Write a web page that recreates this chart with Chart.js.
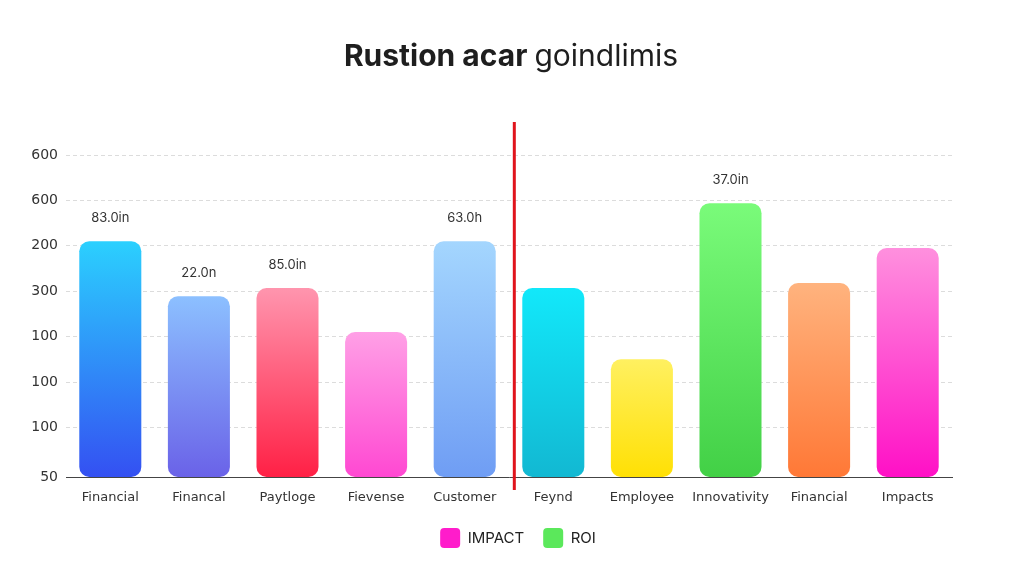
<!DOCTYPE html>
<html lang="en">
  <head>
    <meta charset="UTF-8" />
    <style>
      html, body { margin: 0; padding: 0; background: #fff; }
      #wrap { width: 1024px; height: 576px; }
    </style>
  </head>
  <body>
    <div id="wrap"><canvas id="myChart"></canvas></div>
    <script src="https://cdn.jsdelivr.net/npm/chart.js@4.4.1/dist/chart.umd.min.js"></script>
    <script>
      var categories = ["Financial", "Financal", "Paytloge", "Fievense", "Customer",
                        "Feynd", "Employee", "Innovativity", "Financial", "Impacts"];
      var impactValues = [5.20, 3.99, 4.17, 3.20, 5.20, null, null, null, null, null];
      var roiValues = [null, null, null, null, null, 4.17, 2.60, 6.04, 4.28, 5.05];
      var valueLabels = ["83.0in", "22.0n", "85.0in", "", "63.0h", "", "", "37.0in", "", ""];
      var tickValues = [0, 1.1, 2.1, 3.1, 4.1, 5.1, 6.1, 7.1];
      var tickLabels = ["50", "100", "100", "100", "300", "200", "600", "600"];
      var seriesNames = ["IMPACT", "ROI"];
      var legendColors = ["#ff1ccb", "#5be85b"];
      var gradTop = ["#2bd0fe", "#8cc0ff", "#ff95ae", "#ffa0e6", "#a4d6fe",
                     "#12e8fa", "#fff060", "#7afb7a", "#ffb37e", "#ff90de"];
      var gradBottom = ["#3450f2", "#6a62e8", "#ff2045", "#ff48d2", "#6f9df4",
                        "#12b8d2", "#ffe004", "#42d046", "#ff7836", "#ff10c6"];
      var separatorAt = 4.56;

      function barFill(context) {
        var i = context.dataIndex;
        var chart = context.chart;
        var area = chart.chartArea;
        var v = context.raw;
        if (!area || v == null || !chart.scales.y) return gradTop[i];
        var top = chart.scales.y.getPixelForValue(v);
        var g = chart.ctx.createLinearGradient(0, top, 0, area.bottom);
        g.addColorStop(0, gradTop[i]);
        g.addColorStop(1, gradBottom[i]);
        return g;
      }

      // title with bold + regular parts, red divider, value labels
      var decor = {
        id: "decor",
        afterDatasetsDraw: function (chart) {
          var ctx = chart.ctx;
          var x = chart.scales.x;
          ctx.save();
          // value labels
          ctx.font = "13px Inter, 'DejaVu Sans', sans-serif";
          ctx.fillStyle = "#333";
          ctx.textAlign = "center";
          ctx.textBaseline = "middle";
          chart.data.datasets.forEach(function (ds, di) {
            chart.getDatasetMeta(di).data.forEach(function (bar, i) {
              if (ds.data[i] == null || !valueLabels[i]) return;
              ctx.fillText(valueLabels[i], bar.x, bar.y - 23);
            });
          });
          // red divider
          var px = x.getPixelForValue(separatorAt);
          ctx.strokeStyle = "#e0141c";
          ctx.lineWidth = 3;
          ctx.beginPath();
          ctx.moveTo(px, 122);
          ctx.lineTo(px, 490);
          ctx.stroke();
          // title
          var bold = "700 30px Inter, sans-serif";
          var reg = "400 30px Inter, sans-serif";
          var a = "Rustion acar ", b = "goindlimis";
          ctx.font = bold;
          var wa = ctx.measureText(a).width;
          ctx.font = reg;
          var wb = ctx.measureText(b).width;
          var sx = 511 - (wa + wb) / 2;
          ctx.textAlign = "left";
          ctx.fillStyle = "#1e1e1e";
          ctx.font = bold;
          ctx.fillText(a, sx, 57);
          ctx.font = reg;
          ctx.fillText(b, sx + wa, 57);
          ctx.restore();
        },
      };

      var ctx = document.getElementById("myChart").getContext("2d");
      var chart = new Chart(ctx, {
        type: "bar",
        data: {
          labels: categories,
          datasets: [
            { label: seriesNames[0], data: impactValues, backgroundColor: barFill },
            { label: seriesNames[1], data: roiValues, backgroundColor: barFill },
          ],
        },
        options: {
          responsive: true,
          maintainAspectRatio: false,
          animation: false,
          datasets: {
            bar: {
              grouped: false,
              borderRadius: 10,
              borderSkipped: false,
              categoryPercentage: 0.8,
              barPercentage: 0.875,
            },
          },
          layout: { padding: { top: 155, right: 0, left: 12, bottom: 18 } },
          plugins: {
            colors: { enabled: false },
            tooltip: { enabled: false },
            legend: {
              position: "bottom",
              labels: {
                boxWidth: 20,
                boxHeight: 20,
                useBorderRadius: true,
                borderRadius: 4,
                padding: 19,
                color: "#222",
                font: { size: 15, family: "Inter, sans-serif" },
                generateLabels: function (chart) {
                  return seriesNames.map(function (n, i) {
                    return {
                      text: n,
                      fillStyle: legendColors[i],
                      strokeStyle: legendColors[i],
                      lineWidth: 0,
                      borderRadius: 4,
                      datasetIndex: i,
                      fontColor: "#222",
                    };
                  });
                },
              },
            },
          },
          scales: {
            x: {
              grid: { display: false },
              border: { color: "#444", width: 1 },
              ticks: {
                color: "#333",
                padding: 4,
                font: { size: 13, family: "'DejaVu Sans', sans-serif" },
              },
            },
            y: {
              min: 0,
              max: 7.1,
              afterBuildTicks: function (s) {
                s.ticks = tickValues.map(function (v) { return { value: v }; });
              },
              afterFit: function (s) { s.width = 54; },
              border: { display: false, dash: [4, 3] },
              grid: {
                color: "#dcdcdc",
                lineWidth: 1,
                drawTicks: false,
              },
              ticks: {
                color: "#333",
                padding: 8,
                font: { size: 14, family: "'DejaVu Sans', sans-serif" },
                callback: function (v, i) { return tickLabels[i]; },
              },
            },
            spacer: {
              type: "linear",
              position: "right",
              afterFit: function (s) { s.width = 72; },
              grid: { display: false },
              border: { display: false },
              ticks: { display: false },
            },
          },
        },
        plugins: [decor],
      });
    </script>
  </body>
</html>
